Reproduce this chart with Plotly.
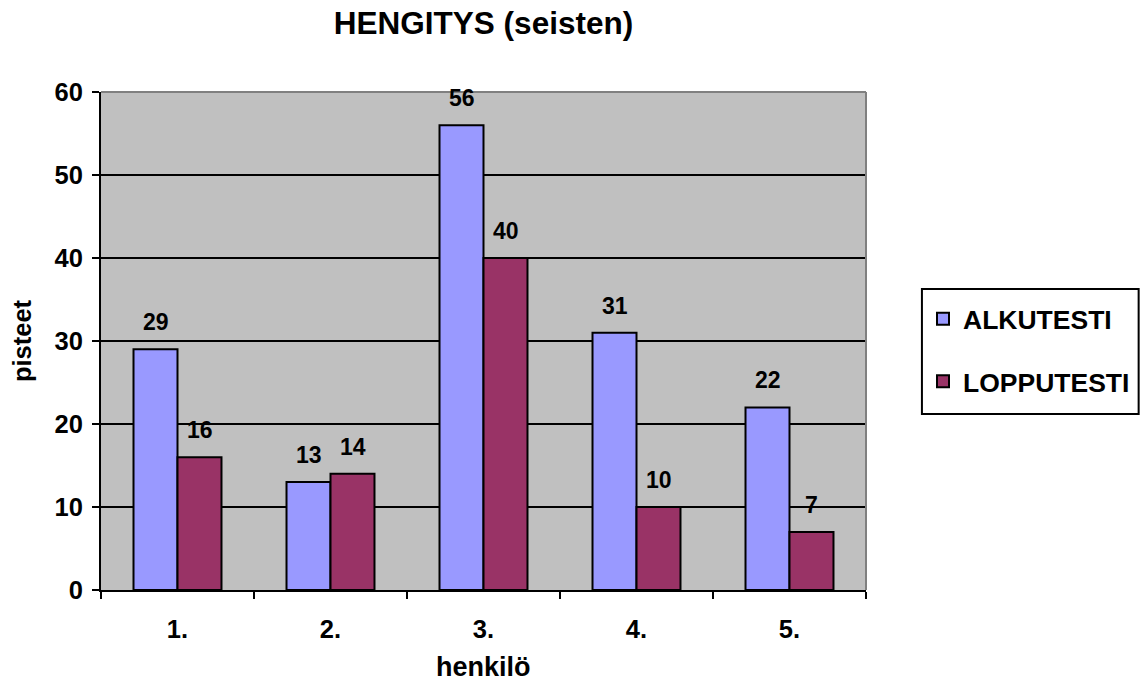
import plotly.graph_objects as go

# Breathing test scores (standing) per person, first and final test
people = ["1.", "2.", "3.", "4.", "5."]
alkutesti = [29, 13, 56, 31, 22]
lopputesti = [16, 14, 40, 10, 7]

series_names = ["ALKUTESTI", "LOPPUTESTI"]
series_colors = ["#9999FF", "#993366"]

FONT = "Liberation Sans, Arial, sans-serif"
W, H = 1146, 682
L, R, T, B = 101, 279, 92, 92
PW, PH = W - L - R, H - T - B


def px_x(px):
    """pixel column -> paper x"""
    return (px - L) / PW


def px_y(py):
    """pixel row -> paper y"""
    return (H - B - py) / PH


fig = go.Figure()
for name, vals, col in zip(series_names, [alkutesti, lopputesti], series_colors):
    fig.add_trace(go.Bar(
        x=people, y=vals, name=name, legendgroup=name,
        marker=dict(color=col, line=dict(color="black", width=2)),
    ))

# value labels above each bar (x given as category index)
annotations = []
for vals, shift in [(alkutesti, -22), (lopputesti, 22)]:
    for idx, v in enumerate(vals):
        annotations.append(dict(
            x=idx, y=v, xref="x", yref="y", text=str(v), showarrow=False,
            xshift=shift, yanchor="bottom", yshift=12,
            font=dict(family=FONT, size=23, color="black", weight="bold"),
        ))

# axis titles
annotations.append(dict(
    text="henkilö", x=0.5, y=px_y(667), xref="paper", yref="paper",
    xanchor="center", yanchor="middle", showarrow=False,
    font=dict(family=FONT, size=27, color="black", weight="bold"),
))
annotations.append(dict(
    text="pisteet", x=px_x(22), y=0.5, xref="paper", yref="paper",
    xanchor="center", yanchor="middle", showarrow=False, textangle=-90,
    font=dict(family=FONT, size=25.5, color="black", weight="bold"),
))

fig.update_layout(
    width=W, height=H,
    margin=dict(l=L, r=R, t=T, b=B),
    paper_bgcolor="white", plot_bgcolor="#C0C0C0",
    barmode="group", bargap=0.425, bargroupgap=0,
    font=dict(family=FONT, size=25, color="black", weight="bold"),
    title=dict(text="HENGITYS (seisten)", x=0.5, xref="paper", xanchor="center",
               y=1 - 23 / H, yref="container", yanchor="middle",
               font=dict(family=FONT, size=31.5, color="black", weight="bold")),
    xaxis=dict(
        type="category", range=[-0.5, len(people) - 0.5], automargin=False,
        tickson="boundaries", ticks="outside", ticklen=7,
        tickwidth=2, tickcolor="black", showline=True, linecolor="black", linewidth=2,
        showgrid=False, ticklabelstandoff=15,
        tickfont=dict(family=FONT, size=25.5, color="black", weight="bold"),
    ),
    yaxis=dict(
        range=[0, 60], dtick=10, ticks="outside", ticklen=7, tickwidth=2,
        tickcolor="black", showline=True, linecolor="black", linewidth=2,
        showgrid=True, gridcolor="black", gridwidth=2, zeroline=False,
        ticklabelstandoff=4, automargin=False,
        tickfont=dict(family=FONT, size=25.5, color="black", weight="bold"),
    ),
    legend=dict(
        x=px_x(923), xanchor="left", y=px_y(295), yanchor="top",
        bgcolor="rgba(0,0,0,0)", borderwidth=0, tracegroupgap=25,
        font=dict(family=FONT, size=26.5, color="black", weight="bold"),
    ),
    annotations=annotations,
    shapes=[
        # gray frame on top and right of plot area
        dict(type="line", xref="paper", yref="paper", x0=0, x1=1, y0=1, y1=1,
             line=dict(color="#808080", width=2), layer="above"),
        dict(type="line", xref="paper", yref="paper", x0=1, x1=1, y0=0, y1=1,
             line=dict(color="#808080", width=2), layer="above"),
        # legend frame
        dict(type="rect", xref="paper", yref="paper",
             x0=px_x(923), x1=px_x(1140), y0=px_y(414), y1=px_y(289),
             line=dict(color="black", width=2), fillcolor="white", layer="below"),
    ],
)

fig.write_html("out.html")
